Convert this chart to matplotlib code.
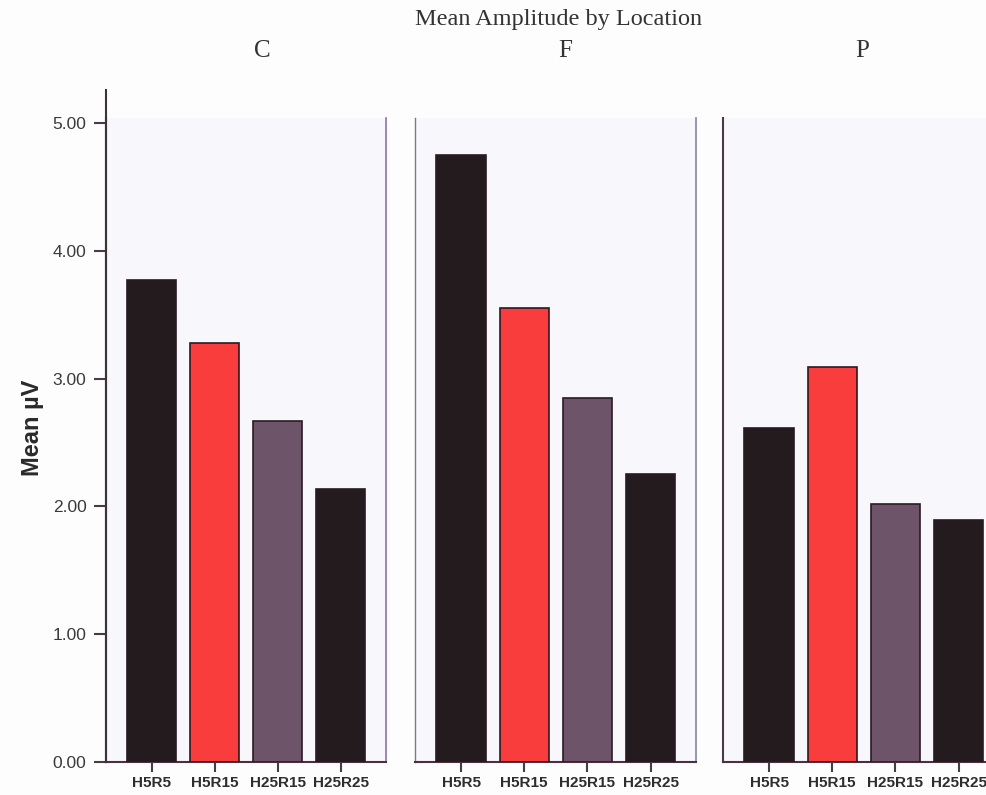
import numpy as np
import matplotlib
matplotlib.use("Agg")
import matplotlib.pyplot as plt

conditions = ["H5R5", "H5R15", "H25R15", "H25R25"]
locations = ["C", "F", "P"]
mean_c = [3.77, 3.28, 2.67, 2.14]
mean_f = [4.75, 3.55, 2.85, 2.25]
mean_p = [2.61, 3.09, 2.02, 1.89]
y_ticks = [0, 1, 2, 3, 4, 5]

bar_colors = ["#241b1e", "#f93d3d", "#6d5468", "#241b1e"]
panel_values = [mean_c, mean_f, mean_p]

W, H = 987, 795
fig = plt.figure(figsize=(W / 100, H / 100), dpi=100, facecolor="#fdfdfe")

# panel boxes in pixels: left, right
panel_px = [(106, 386), (415, 696), (723, 1004)]
bottom_px, top_px = 762, 118
ymax = (bottom_px - top_px) / 127.8

left_colors = ["#3a3438", "#7c7688", "#4a3a48"]
right_colors = ["#8c72aa", "#8a82a2", "#8a82a2"]

x = np.arange(len(conditions))
axes = []
for i, (l, r) in enumerate(panel_px):
    ax = fig.add_axes([l / W, 1 - bottom_px / H, (r - l) / W, (bottom_px - top_px) / H])
    ax.set_facecolor("#f8f7fc")
    ax.bar(x, panel_values[i], width=0.78, color=bar_colors,
           edgecolor="#2a1a22", linewidth=1.2, zorder=3)
    ax.set_xlim(-0.73, 3.72)
    ax.set_ylim(0, ymax)
    ax.set_xticks(x)
    ax.set_xticklabels(conditions, fontsize=11, fontweight="bold",
                       family="Liberation Sans", color="#2e2e2e")
    ax.tick_params(axis="x", length=7, width=1.5, color="#4a3a48", pad=3)
    ax.spines["top"].set_visible(False)
    ax.spines["bottom"].set_color("#4a3040")
    ax.spines["bottom"].set_linewidth(1.5)
    ax.spines["left"].set_color(left_colors[i])
    ax.spines["left"].set_linewidth(1.5 if i != 1 else 1.0)
    ax.spines["right"].set_color(right_colors[i])
    ax.spines["right"].set_linewidth(1.2)
    if i == 0:
        ax.set_yticks(y_ticks)
        ax.set_yticklabels([f"{v:.2f}" for v in y_ticks], fontsize=12.5,
                           family="Liberation Sans", color="#3a3a3a")
        ax.tick_params(axis="y", length=9, width=1.5, color="#4a3a48", pad=5)
        ax.set_ylabel("Mean µV", fontsize=17, fontweight="bold",
                      family="Liberation Sans", color="#2a2a2a")
        ax.yaxis.set_label_coords(-62 / (r - l), (bottom_px - 428) / (bottom_px - top_px))
        # value axis line runs above the panel box
        ax.plot([0, 0], [0, 5.26], transform=ax.get_yaxis_transform(),
                color="#3a3438", lw=1.5, clip_on=False, zorder=5)
    else:
        ax.set_yticks([])
    axes.append(ax)

fig.text(559 / W, 1 - 20 / H, "Mean Amplitude by Location", ha="center", va="center",
         fontsize=17.5, family="Liberation Serif", color="#333333")
for name, px in zip(locations, [262, 565, 862]):
    fig.text(px / W, 1 - 51 / H, name, ha="center", va="center",
             fontsize=18, family="Liberation Serif", color="#333333")

fig.savefig("out.png", dpi=100, facecolor=fig.get_facecolor())
